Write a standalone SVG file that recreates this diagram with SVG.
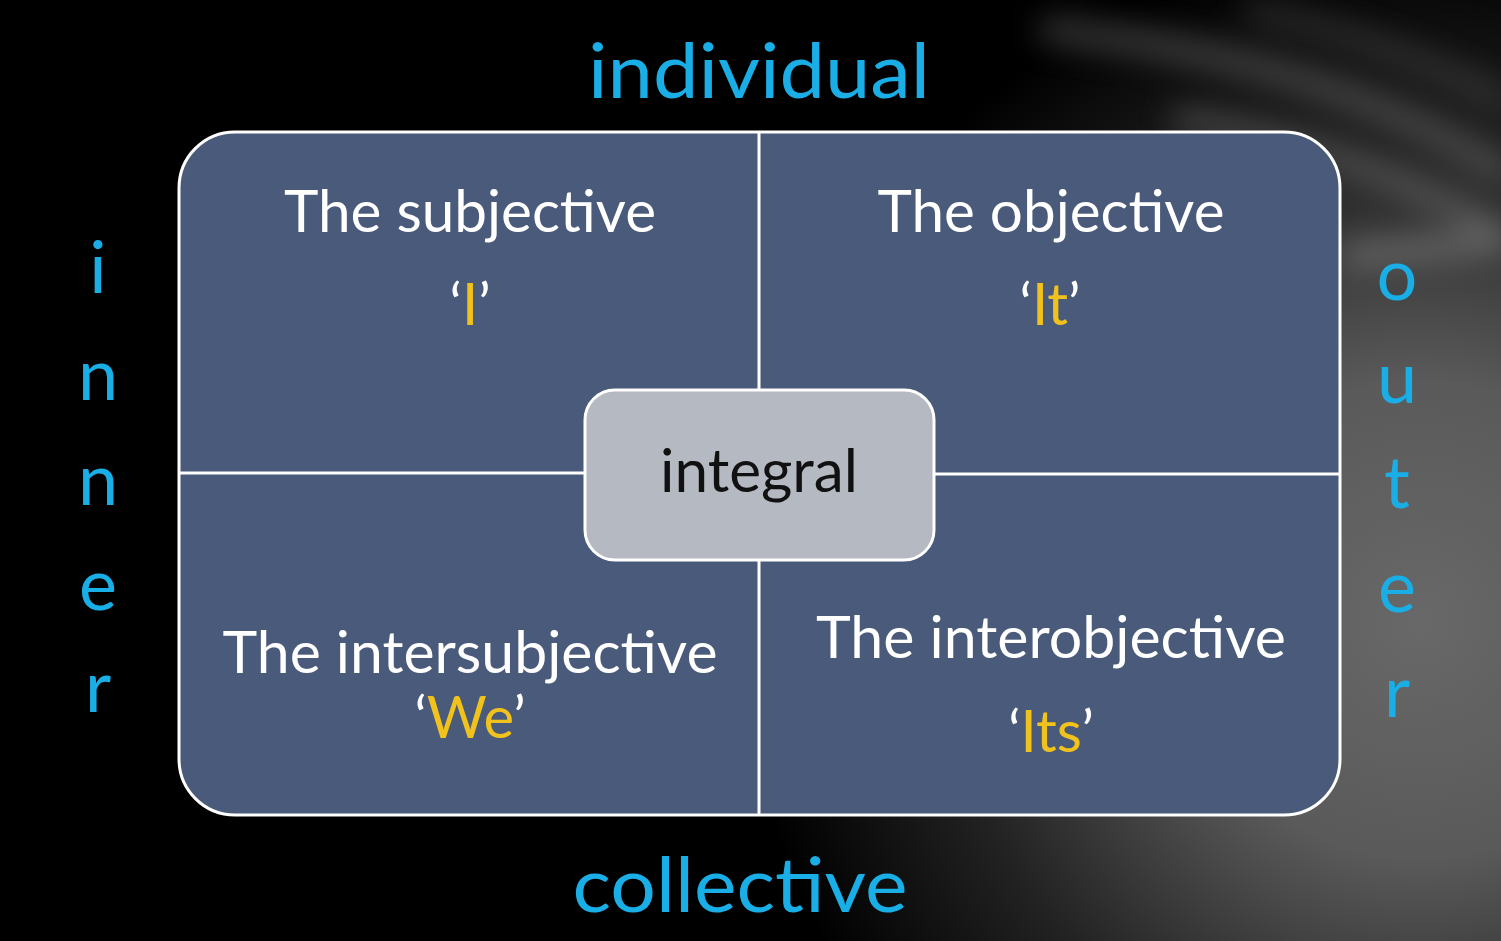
<svg xmlns="http://www.w3.org/2000/svg" width="1501" height="941" viewBox="0 0 1501 941">
<defs>
<radialGradient id="bg" cx="1420" cy="620" r="680" gradientUnits="userSpaceOnUse">
<stop offset="0" stop-color="#686868"/>
<stop offset="0.35" stop-color="#5a5a5a"/>
<stop offset="0.7" stop-color="#222"/>
<stop offset="1" stop-color="#000"/>
</radialGradient>
<filter id="blur" x="-30%" y="-30%" width="160%" height="160%"><feGaussianBlur stdDeviation="16"/></filter>
<style>
.lbl{font-family:Lato,"Open Sans",sans-serif;fill:#1aaee6;text-anchor:middle}
.big{font-size:76px}
.side{font-size:72px}
.q{font-family:Lato,"Open Sans",sans-serif;font-size:58px;fill:#fff;text-anchor:middle}
.y{fill:#f2c21c}
.div{stroke:#fff;stroke-width:3;fill:none}
</style>
</defs>
<rect width="1501" height="941" fill="#000"/>
<rect width="1501" height="941" fill="url(#bg)"/>
<g filter="url(#blur)" fill="none" stroke-linecap="round" opacity="0.55">
<path d="M1050 30 C1230 50 1370 90 1501 170" stroke-width="22" stroke="#777"/>
<path d="M1180 120 C1320 140 1430 190 1501 235" stroke-width="18" stroke="#888"/>
<path d="M1350 255 C1410 250 1460 245 1501 240" stroke-width="20" stroke="#999"/>
<path d="M1250 10 C1360 35 1440 65 1501 100" stroke-width="14" stroke="#666"/>
</g>
<g id="frame">
<rect x="179" y="132" width="1161" height="683" rx="56" fill="#4a5a7a" stroke="#fff" stroke-width="3"/>
</g>
<g id="connectors">
<line class="div" x1="759" y1="132" x2="759" y2="815"/>
<line class="div" x1="179" y1="473" x2="759" y2="473"/>
<line class="div" x1="759" y1="474" x2="1340" y2="474"/>
</g>
<g id="q-subjective">
<text class="q" x="470" y="232" textLength="372" lengthAdjust="spacingAndGlyphs">The subjective</text>
<text class="q" x="470" y="325">‘<tspan class="y">I</tspan>’</text>
</g>
<g id="q-objective">
<text class="q" x="1051" y="232" textLength="347" lengthAdjust="spacingAndGlyphs">The objective</text>
<text class="q" x="1050" y="325">‘<tspan class="y">It</tspan>’</text>
</g>
<g id="q-intersubjective">
<text class="q" x="470" y="673" textLength="495" lengthAdjust="spacingAndGlyphs">The intersubjective</text>
<text class="q" x="470" y="738">‘<tspan class="y">We</tspan>’</text>
</g>
<g id="q-interobjective">
<text class="q" x="1051" y="658" textLength="470" lengthAdjust="spacingAndGlyphs">The interobjective</text>
<text class="q" x="1051" y="752">‘<tspan class="y">Its</tspan>’</text>
</g>
<g id="integral">
<rect x="585" y="390" width="349" height="170" rx="30" fill="#b5b9c2" stroke="#fff" stroke-width="3"/>
<text x="759" y="492" font-family="Lato,'Open Sans',sans-serif" font-size="60" fill="#111" text-anchor="middle" textLength="198" lengthAdjust="spacingAndGlyphs">integral</text>
</g>
<g id="axis-labels">
<text class="lbl big" x="759" y="98" textLength="342" lengthAdjust="spacingAndGlyphs">individual</text>
<text class="lbl big" x="740" y="912" textLength="335" lengthAdjust="spacingAndGlyphs">collective</text>
<text class="lbl side" x="98" y="293">i</text>
<text class="lbl side" x="98" y="400">n</text>
<text class="lbl side" x="98" y="505">n</text>
<text class="lbl side" x="98" y="610">e</text>
<text class="lbl side" x="98" y="712">r</text>
<text class="lbl side" x="1397" y="300">o</text>
<text class="lbl side" x="1397" y="403">u</text>
<text class="lbl side" x="1397" y="508">t</text>
<text class="lbl side" x="1397" y="612">e</text>
<text class="lbl side" x="1397" y="717">r</text>
</g>
</svg>
